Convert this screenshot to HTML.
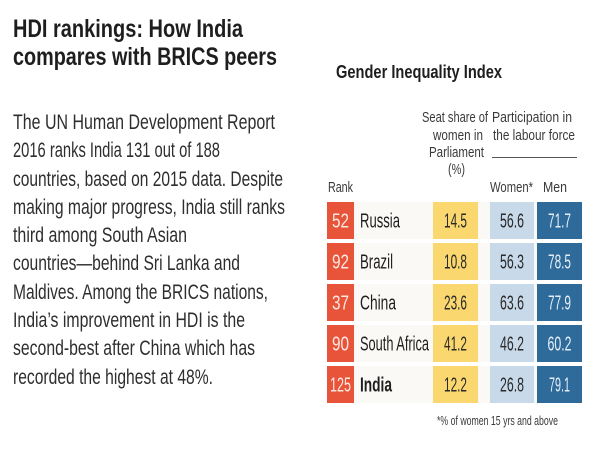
<!DOCTYPE html>
<html><head><meta charset="utf-8"><style>
html,body{margin:0;padding:0;background:#fff;}
svg{display:block;}
text{font-family:"Liberation Sans Narrow","Liberation Sans",sans-serif;}
</style></head><body>
<svg width="600" height="450" viewBox="0 0 600 450" xmlns="http://www.w3.org/2000/svg">
<rect width="600" height="450" fill="#fff"/>
<!-- Title -->
<g fill="#1e1e1e" font-weight="bold" font-size="25">
<text x="13" y="37" textLength="230" lengthAdjust="spacingAndGlyphs">HDI rankings: How India</text>
<text x="13" y="65" textLength="264" lengthAdjust="spacingAndGlyphs">compares with BRICS peers</text>
</g>
<!-- Body -->
<g fill="#2e2e2e" font-size="21.5">
<text x="13" y="129" textLength="262" lengthAdjust="spacingAndGlyphs">The UN Human Development Report</text>
<text x="13" y="157" textLength="207" lengthAdjust="spacingAndGlyphs">2016 ranks India 131 out of 188</text>
<text x="13" y="186" textLength="270" lengthAdjust="spacingAndGlyphs">countries, based on 2015 data. Despite</text>
<text x="13" y="214" textLength="272" lengthAdjust="spacingAndGlyphs">making major progress, India still ranks</text>
<text x="13" y="242" textLength="174" lengthAdjust="spacingAndGlyphs">third among South Asian</text>
<text x="13" y="270" textLength="227" lengthAdjust="spacingAndGlyphs">countries—behind Sri Lanka and</text>
<text x="13" y="299" textLength="255" lengthAdjust="spacingAndGlyphs">Maldives. Among the BRICS nations,</text>
<text x="13" y="327" textLength="232" lengthAdjust="spacingAndGlyphs">India’s improvement in HDI is the</text>
<text x="13" y="355" textLength="242" lengthAdjust="spacingAndGlyphs">second-best after China which has</text>
<text x="13" y="384" textLength="200" lengthAdjust="spacingAndGlyphs">recorded the highest at 48%.</text>
</g>
<!-- Chart title -->
<text x="336" y="78" fill="#1e1e1e" font-weight="bold" font-size="18" textLength="166" lengthAdjust="spacingAndGlyphs">Gender Inequality Index</text>
<!-- Headers -->
<g fill="#3a3a3a" font-size="15">
<text x="422" y="122" textLength="66" lengthAdjust="spacingAndGlyphs">Seat share of</text>
<text x="433" y="140" textLength="50" lengthAdjust="spacingAndGlyphs">women in</text>
<text x="429" y="157" textLength="55" lengthAdjust="spacingAndGlyphs">Parliament</text>
<text x="448" y="174" textLength="17" lengthAdjust="spacingAndGlyphs">(%)</text>
<text x="492" y="122" textLength="80" lengthAdjust="spacingAndGlyphs">Participation in</text>
<text x="493" y="140" textLength="82" lengthAdjust="spacingAndGlyphs">the labour force</text>
<text x="328" y="192" textLength="25" lengthAdjust="spacingAndGlyphs">Rank</text>
<text x="490" y="192" textLength="43" lengthAdjust="spacingAndGlyphs">Women*</text>
<text x="543" y="192" textLength="24" lengthAdjust="spacingAndGlyphs">Men</text>
</g>
<line x1="492" y1="157.5" x2="577" y2="157.5" stroke="#555" stroke-width="1"/>
<!-- Rows -->
<g fill="#faf9f6">
<rect x="327" y="202" width="254" height="37"/>
<rect x="327" y="243" width="254" height="37"/>
<rect x="327" y="284" width="254" height="37"/>
<rect x="327" y="325" width="254" height="37"/>
<rect x="327" y="366" width="254" height="37"/>
</g>
<g fill="#e8543a">
<rect x="327" y="202" width="27" height="37"/>
<rect x="327" y="243" width="27" height="37"/>
<rect x="327" y="284" width="27" height="37"/>
<rect x="327" y="325" width="27" height="37"/>
<rect x="327" y="366" width="27" height="37"/>
</g>
<g fill="#fbd76f">
<rect x="433" y="202" width="45" height="37"/>
<rect x="433" y="243" width="45" height="37"/>
<rect x="433" y="284" width="45" height="37"/>
<rect x="433" y="325" width="45" height="37"/>
<rect x="433" y="366" width="45" height="37"/>
</g>
<g fill="#c8d9ea">
<rect x="490" y="202" width="44" height="37"/>
<rect x="490" y="243" width="44" height="37"/>
<rect x="490" y="284" width="44" height="37"/>
<rect x="490" y="325" width="44" height="37"/>
<rect x="490" y="366" width="44" height="37"/>
</g>
<g fill="#2e6b9b">
<rect x="537" y="202" width="45" height="37"/>
<rect x="537" y="243" width="45" height="37"/>
<rect x="537" y="284" width="45" height="37"/>
<rect x="537" y="325" width="45" height="37"/>
<rect x="537" y="366" width="45" height="37"/>
</g>
<!-- Rank numbers -->
<g fill="#fde9e2" font-size="20.5" text-anchor="middle">
<text x="340.5" y="227.5" textLength="17" lengthAdjust="spacingAndGlyphs">52</text>
<text x="340.5" y="268.5" textLength="17" lengthAdjust="spacingAndGlyphs">92</text>
<text x="340.5" y="309.5" textLength="17" lengthAdjust="spacingAndGlyphs">37</text>
<text x="340.5" y="350.5" textLength="17" lengthAdjust="spacingAndGlyphs">90</text>
<text x="340.5" y="391.5" textLength="21" lengthAdjust="spacingAndGlyphs">125</text>
</g>
<!-- Country names -->
<g fill="#1e1e1e" font-size="20.5">
<text x="360" y="227.5" textLength="40" lengthAdjust="spacingAndGlyphs">Russia</text>
<text x="360" y="268.5" textLength="33" lengthAdjust="spacingAndGlyphs">Brazil</text>
<text x="360" y="309.5" textLength="36" lengthAdjust="spacingAndGlyphs">China</text>
<text x="360" y="350.5" textLength="69" lengthAdjust="spacingAndGlyphs">South Africa</text>
<text x="360" y="391.5" textLength="32" lengthAdjust="spacingAndGlyphs" font-weight="bold">India</text>
</g>
<!-- Seat share -->
<g fill="#2a2a2a" font-size="20.5" text-anchor="middle">
<text x="455.5" y="227.5" textLength="23" lengthAdjust="spacingAndGlyphs">14.5</text>
<text x="455.5" y="268.5" textLength="23" lengthAdjust="spacingAndGlyphs">10.8</text>
<text x="455.5" y="309.5" textLength="23" lengthAdjust="spacingAndGlyphs">23.6</text>
<text x="455.5" y="350.5" textLength="23" lengthAdjust="spacingAndGlyphs">41.2</text>
<text x="455.5" y="391.5" textLength="23" lengthAdjust="spacingAndGlyphs">12.2</text>
</g>
<!-- Women -->
<g fill="#2a2a2a" font-size="20.5" text-anchor="middle">
<text x="512" y="227.5" textLength="24" lengthAdjust="spacingAndGlyphs">56.6</text>
<text x="512" y="268.5" textLength="24" lengthAdjust="spacingAndGlyphs">56.3</text>
<text x="512" y="309.5" textLength="24" lengthAdjust="spacingAndGlyphs">63.6</text>
<text x="512" y="350.5" textLength="24" lengthAdjust="spacingAndGlyphs">46.2</text>
<text x="512" y="391.5" textLength="24" lengthAdjust="spacingAndGlyphs">26.8</text>
</g>
<!-- Men -->
<g fill="#e6eef6" font-size="20.5" text-anchor="middle">
<text x="559.5" y="227.5" textLength="23" lengthAdjust="spacingAndGlyphs">71.7</text>
<text x="559.5" y="268.5" textLength="23" lengthAdjust="spacingAndGlyphs">78.5</text>
<text x="559.5" y="309.5" textLength="23" lengthAdjust="spacingAndGlyphs">77.9</text>
<text x="559.5" y="350.5" textLength="24" lengthAdjust="spacingAndGlyphs">60.2</text>
<text x="559.5" y="391.5" textLength="21" lengthAdjust="spacingAndGlyphs">79.1</text>
</g>
<!-- Footnote -->
<text x="437" y="425" fill="#3a3a3a" font-size="13" textLength="121" lengthAdjust="spacingAndGlyphs">*% of women 15 yrs and above</text>
</svg>
</body></html>
